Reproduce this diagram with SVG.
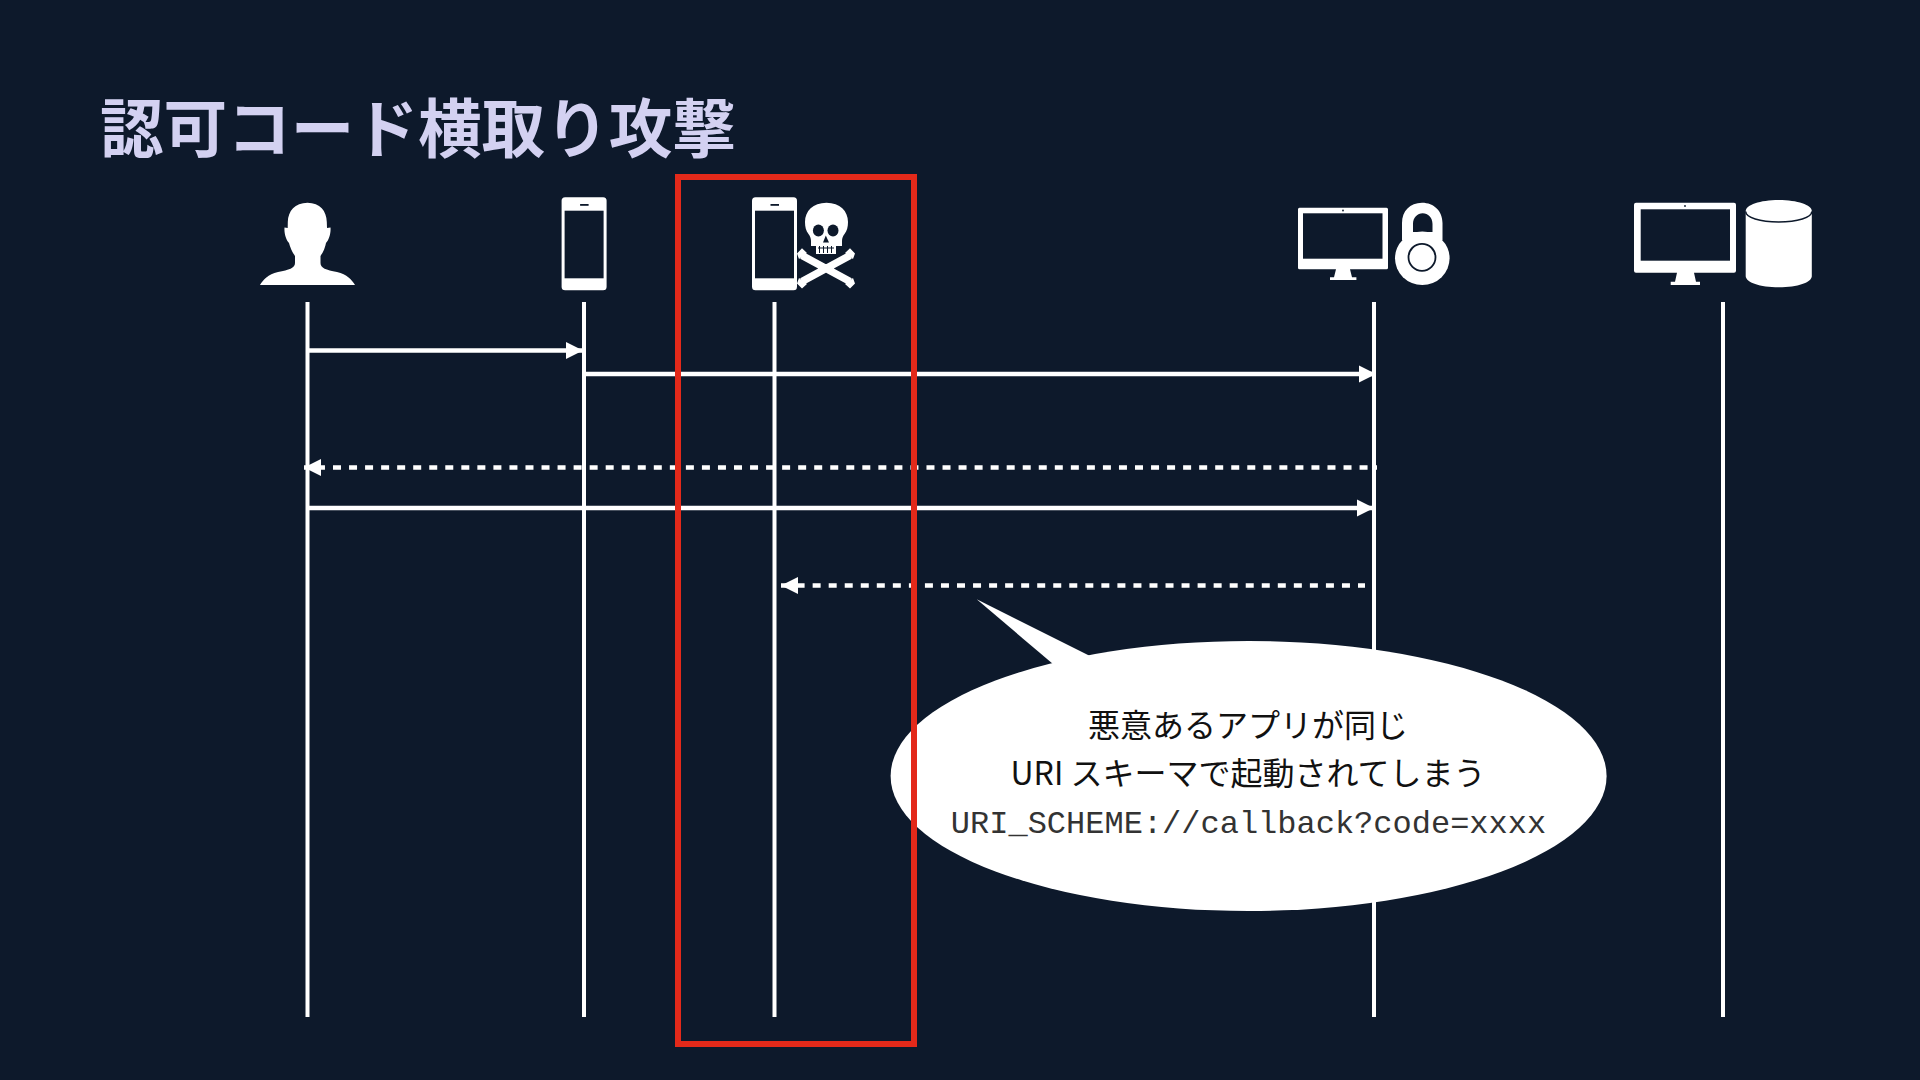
<svg xmlns="http://www.w3.org/2000/svg" width="1920" height="1080" viewBox="0 0 1920 1080">
<style>
.ic{fill:#fff}
.dk{fill:#0d192b}
.life{stroke:#fff;stroke-width:4;fill:none}
.msg{stroke:#fff;stroke-width:4.400;fill:none}
.dash{stroke-width:4.700;stroke-dasharray:8 8.040}
.jp{font-family:"Noto Sans CJK JP","Liberation Sans",sans-serif;font-size:32px;font-weight:400;fill:#111;text-anchor:middle}
</style>
<defs>
<marker id="ah" markerUnits="userSpaceOnUse" markerWidth="18" markerHeight="18" refX="17" refY="9" orient="auto"><path d="M0 0.500 L17 9 L0 17.500Z" fill="#fff"/></marker>
<g id="phone">
<rect x="0" y="0" width="45" height="93" rx="3.500" class="ic"/>
<rect x="3" y="13.400" width="39" height="67.600" class="dk"/>
<rect x="18.500" y="6.700" width="8.500" height="1.800" class="dk"/>
</g>
</defs>
<rect id="background" width="1920" height="1080" fill="#0d192b"/>
<text id="title" x="100" y="152" font-family="'Noto Sans CJK JP','Liberation Sans',sans-serif" font-size="63.600" font-weight="700" fill="#d3d1f1">認可コード横取り攻撃</text>

<g id="connectors">
<path class="life" d="M307.500 302V1017"/>
<path class="life" d="M584 302V1017"/>
<path class="life" d="M774.500 302V1017"/>
<path class="life" d="M1374 302V1017"/>
<path class="life" d="M1723 302V1017"/>
<path class="msg" d="M308 350.500H583" marker-end="url(#ah)"/>
<path class="msg" d="M584 374H1376" marker-end="url(#ah)"/>
<path class="msg dash" style="stroke-dashoffset:6.600" d="M1377 467.500H304" marker-end="url(#ah)"/>
<path class="msg" d="M308 508H1374" marker-end="url(#ah)"/>
<path class="msg dash" style="stroke-dashoffset:1" d="M1365 585.500H781" marker-end="url(#ah)"/>
</g>

<g id="user">
<path class="ic" d="M307.500 202.700C295 202.700 288 211 287.800 222L287.700 228L284.500 227.500C284 233 286 240 289 243C291 250 293 253 295 256L295 263C295 268 289 270 278 272C268 274 263 280 260 285H355C352 280 347 274 337 272C326 270 320.500 268 320.500 263L320.500 256C322.500 253 324.500 250 326 243C329 240 331 233 330.500 227.500L327 228L326.800 222C326.600 211 320 202.700 307.500 202.700Z"/>
</g>
<g id="client-app"><use href="#phone" x="561.600" y="197.300"/></g>
<g id="malicious-app">
<use href="#phone" x="752" y="197.300"/>
<path class="ic" d="M826.500 202.700C813 202.700 805 211 805 222C805 227 806 231 808.500 234C810 236 811 238 811 241V246H816V254H836V246H842V241C842 238 843 236 844.500 234C847 231 848 227 848 222C848 211 840 202.700 826.500 202.700Z"/>
<ellipse class="dk" cx="818.400" cy="230.500" rx="5.500" ry="6"/>
<ellipse class="dk" cx="833" cy="230.500" rx="5.500" ry="6"/>
<path class="dk" d="M825.800 235.500L823 242.500H829Z"/>
<path d="M819.500 246V253M823.500 246V253M827.500 246V253M831.500 246V253M818 248H834" stroke="#0d192b" stroke-width="1" fill="none"/>
<path d="M802 255.500L850 281.500M850 255.500L802 281.500" stroke="#fff" stroke-width="7.500" fill="none"/>
<path class="ic" d="M802 248.300L807 253L799 259L797 253.500ZM850 248.300L845 253L853 259L855 253.500ZM799 278L807 284L802 288.500L797 283.500ZM853 278L845 284L850 288.500L855 283.500Z"/>
</g>
<g id="auth-server">
<path class="ic" d="M1299.500 207.700H1386.500a1.500 1.500 0 0 1 1.500 1.500V267.800a1.500 1.500 0 0 1-1.500 1.500H1350L1352 277.300H1356.400V280H1330V277.300H1334L1336 269.300H1299.500a1.500 1.500 0 0 1-1.500-1.500V209.200a1.500 1.500 0 0 1 1.500-1.500Z"/>
<rect class="dk" x="1303" y="213.300" width="79.500" height="45.400"/>
<circle class="dk" cx="1343" cy="210.500" r="0.900"/>
<path class="ic" fill-rule="evenodd" d="M1402 240V223C1402 211 1410 202.700 1422 202.700C1434 202.700 1442.500 211 1442.500 223V240ZM1413 232H1432.500V224C1432.500 217.500 1428 213.300 1422.700 213.300C1417.500 213.300 1413 217.500 1413 224Z"/>
<ellipse class="ic" cx="1422.300" cy="258.300" rx="27.300" ry="26.700"/>
<circle cx="1422" cy="257.300" r="13.500" fill="#fff" stroke="#0d192b" stroke-width="1.800"/>
</g>
<g id="resource-server">
<path class="ic" d="M1636 202.700H1734a2 2 0 0 1 2 2V270.700a2 2 0 0 1-2 2H1694L1696 281.700H1700V285H1670.700V281.700H1675L1677 272.700H1636a2 2 0 0 1-2-2V204.700a2 2 0 0 1 2-2Z"/>
<rect class="dk" x="1640.700" y="209.300" width="89.300" height="51.400"/>
<circle class="dk" cx="1685" cy="206" r="0.900"/>
<path class="ic" d="M1745.700 211C1745.700 205 1760 200 1778.700 200C1797.500 200 1811.800 205 1811.800 211V276C1811.800 282.500 1797.500 287.300 1778.700 287.300C1760 287.300 1745.700 282.500 1745.700 276Z"/>
<path d="M1745.700 211.500C1745.700 217.500 1760 222 1778.700 222C1797.500 222 1811.800 217.500 1811.800 211.500" fill="none" stroke="#0d192b" stroke-width="1.500"/>
</g>

<g id="callout">
<path class="ic" d="M976.700 599.300L1053 664L1090 656Z"/>
<ellipse class="ic" cx="1248.600" cy="776" rx="358" ry="135"/>
<text class="jp" x="1248" y="737">悪意あるアプリが同じ</text>
<text class="jp" x="1248" y="785">URI スキーマで起動されてしまう</text>
<text x="1248.500" y="833" text-anchor="middle" font-family="'Liberation Mono',monospace" font-size="32" fill="#333">URI_SCHEME://callback?code=xxxx</text>
</g>

<g id="highlight">
<rect x="678" y="177" width="236" height="867" fill="none" stroke="#e3291a" stroke-width="6"/>
</g>
</svg>
